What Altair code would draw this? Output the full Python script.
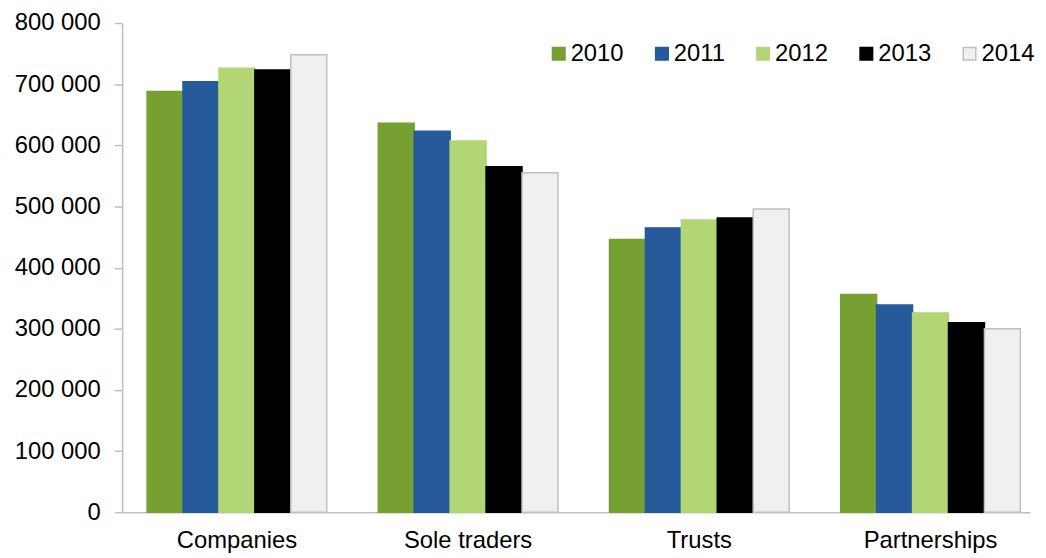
import altair as alt
import pandas as pd

categories = ["Companies", "Sole traders", "Trusts", "Partnerships"]
years = ["2010", "2011", "2012", "2013", "2014"]
v2010 = [688000, 636000, 446000, 356000]
v2011 = [704000, 623000, 465000, 339000]
v2012 = [726000, 607000, 478000, 326000]
v2013 = [723000, 565000, 481000, 310000]
v2014 = [748000, 555000, 496000, 300000]

fill_colors = ["#77A033", "#265A9A", "#B2D675", "#000000", "#F0F0F0"]
stroke_colors = ["#77A033", "#265A9A", "#B2D675", "#000000", "#BFBFBF"]

rows = []
for yr, vals in zip(years, [v2010, v2011, v2012, v2013, v2014]):
    for c, v in zip(categories, vals):
        rows.append({"category": c, "year": yr, "value": v})
df = pd.DataFrame(rows)

FONT = "Liberation Sans"
FS = 24

chart = alt.Chart(df).mark_bar(strokeWidth=1.5).encode(
    x=alt.X("category:N", sort=categories, title=None,
            scale=alt.Scale(paddingInner=0.223, paddingOuter=0.075, align=0.72),
            axis=alt.Axis(labelAngle=0, labelFontSize=FS, labelColor="#000000",
                          labelFont=FONT, ticks=False, labelPadding=17,
                          domainColor="#BFBFBF", domainWidth=1.5)),
    xOffset=alt.XOffset("year:N", sort=years, scale=alt.Scale(paddingInner=0, paddingOuter=0)),
    y=alt.Y("value:Q", title=None,
            scale=alt.Scale(domain=[0, 800000], nice=False),
            axis=alt.Axis(values=list(range(0, 800001, 100000)), grid=False,
                          labelExpr="replace(format(datum.value, ','), regexp(',', 'g'), ' ')",
                          labelFontSize=FS, labelColor="#000000", labelFont=FONT,
                          tickSize=8, tickColor="#BFBFBF", tickWidth=1.5,
                          domainColor="#BFBFBF", domainWidth=1.5, labelPadding=14)),
    fill=alt.Fill("year:N", sort=years, title=None,
                  scale=alt.Scale(domain=years, range=fill_colors),
                  legend=alt.Legend(orient="none", legendX=428, legendY=19,
                                    direction="horizontal", columns=5,
                                    symbolType="square", symbolSize=160,
                                    symbolStrokeWidth=1.5,
                                    labelFontSize=FS, labelFont=FONT, labelColor="#000000",
                                    labelOffset=0, columnPadding=26, padding=0)),
    stroke=alt.Stroke("year:N", sort=years, title=None,
                      scale=alt.Scale(domain=years, range=stroke_colors)),
).properties(
    width=915, height=493,
    autosize=alt.AutoSizeParams(type="none"),
    padding={"left": 115, "top": 13, "right": 8, "bottom": 44},
).configure(font=FONT, background="#FFFFFF").configure_view(stroke=None)

chart.save("out.html", embed_options={"renderer": "svg", "actions": False})
